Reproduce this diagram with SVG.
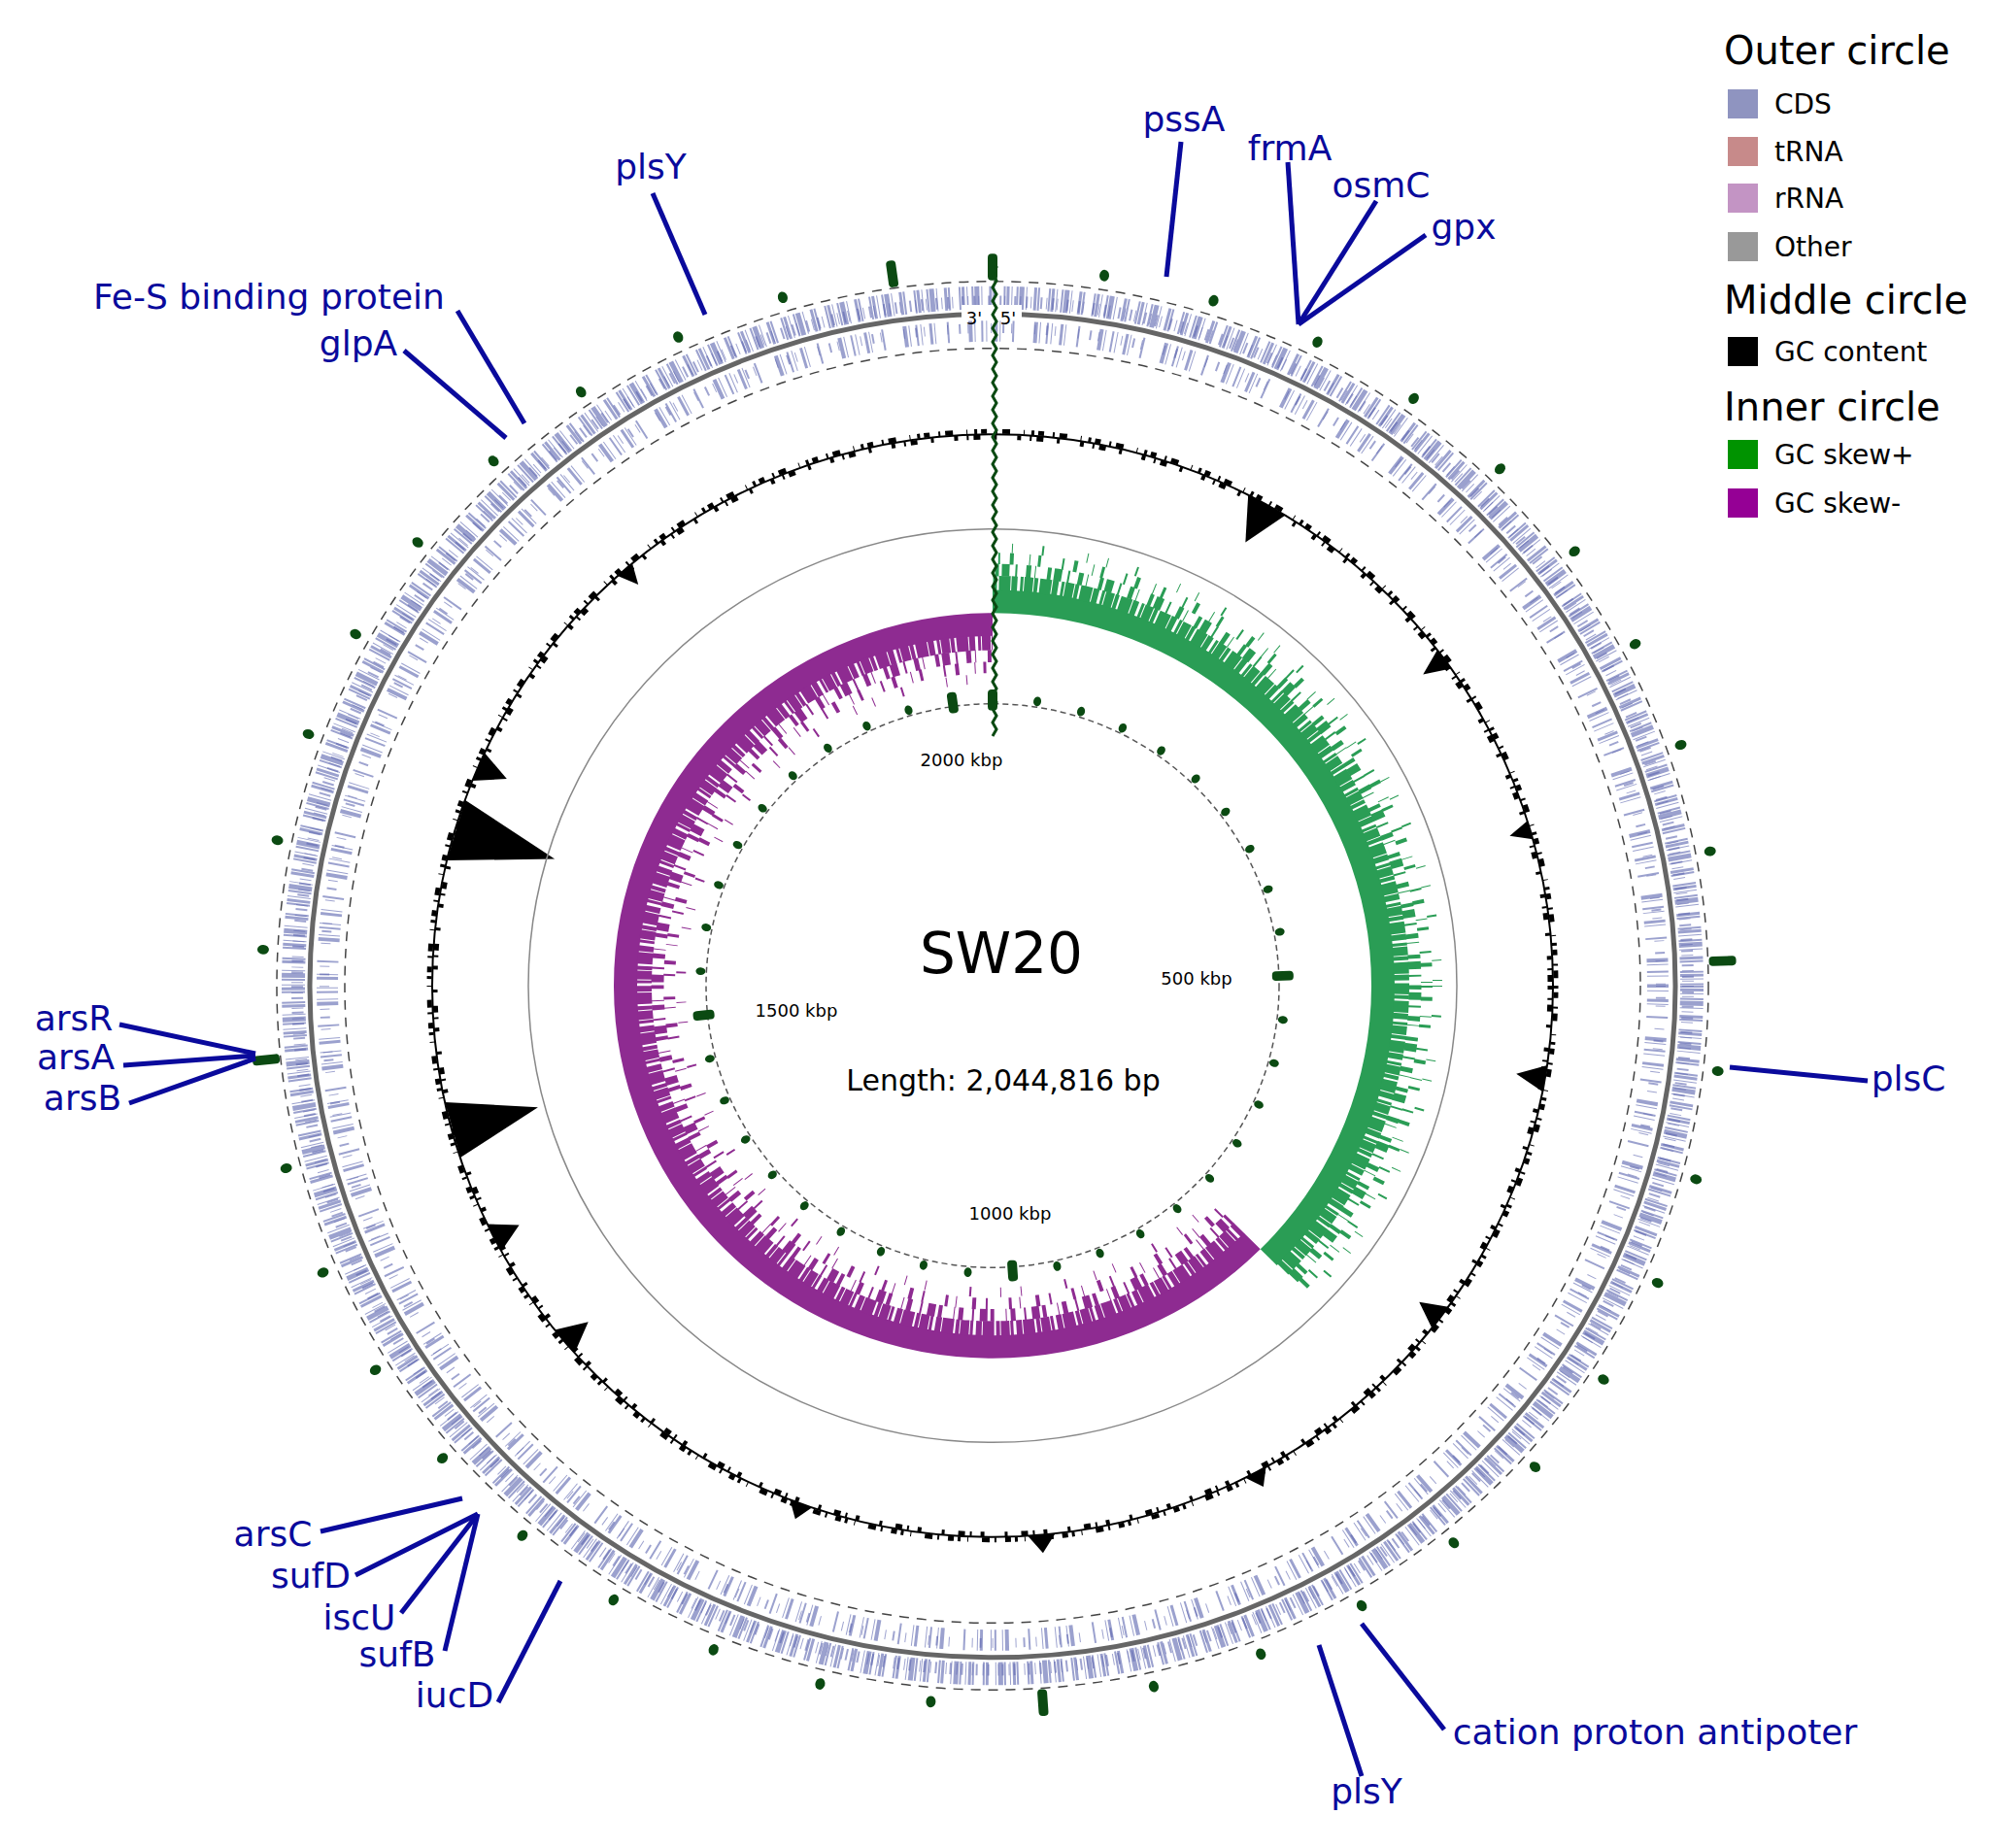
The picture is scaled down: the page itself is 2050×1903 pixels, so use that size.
<svg xmlns="http://www.w3.org/2000/svg" xmlns:xlink="http://www.w3.org/1999/xlink" width="2050" height="1903" viewBox="0 0 2050 1903">
<style>
.lbl{font-family:"DejaVu Sans","Liberation Sans",sans-serif;font-size:36px;fill:#0a0a9c;text-anchor:middle}
.ptr{stroke:#0a0a9c;stroke-width:5;fill:none}
.lt{font-family:"DejaVu Sans","Liberation Sans",sans-serif;font-size:40px;fill:#000}
.li{font-family:"DejaVu Sans","Liberation Sans",sans-serif;font-size:28px;fill:#000}
.kb{font-family:"DejaVu Sans","Liberation Sans",sans-serif;font-size:18px;fill:#000;text-anchor:middle}
.dk{fill:#0b4a12}
</style>
<defs>
<ellipse id="od" cx="0" cy="-752" rx="5" ry="6" class="dk"/>
<rect id="ob" x="-5" y="-766" width="10" height="28" rx="4" class="dk"/>
<ellipse id="id" cx="0" cy="-301" rx="4" ry="5" class="dk"/>
<rect id="ib" x="-5" y="-310" width="10" height="22" rx="4" class="dk"/>
<clipPath id="gsec"><polygon points="0,0 0,-700 700,-700 700,700"/></clipPath>
<clipPath id="psec"><polygon points="0,0 700,700 700,800 -800,800 -800,-700 0,-700"/></clipPath>
</defs>
<rect width="2050" height="1903" fill="#fff"/>
<g id="plot" transform="translate(1022,1015) scale(1,0.984)">
  <g id="cds" fill="none">
    <circle r="737" stroke="#444" stroke-width="1.5" stroke-dasharray="10 8"/>
    <circle r="667" stroke="#444" stroke-width="1.5" stroke-dasharray="10 8"/>
    <circle r="720" stroke="#8a90c6" stroke-width="24" stroke-dasharray="2 1 3 2 1 4 2 1 5 2 1 7 3 1 2 9" opacity="0.85"/>
    <circle r="716" stroke="#5f67b0" stroke-width="12" stroke-dasharray="1 5 2 3 1 9 2 4" opacity="0.6"/>
    <circle r="685" stroke="#8a90c6" stroke-width="22" stroke-dasharray="2 3 1 8 3 2 1 12 2 20 4 2 1 6" opacity="0.85"/>
    <circle r="688" stroke="#5f67b0" stroke-width="10" stroke-dasharray="1 11 2 7 1 23" opacity="0.6"/>
    <circle r="703" stroke="#666" stroke-width="5"/>
  </g>
  <g id="gc" fill="none">
    <circle r="577" stroke="#000" stroke-width="2"/>
    <circle r="580" stroke="#000" stroke-width="5" stroke-dasharray="3 4 6 9 2 5 8 14 1 7"/>
    <circle r="574" stroke="#000" stroke-width="5" stroke-dasharray="4 9 2 5 7 14 3 21"/>
    <g fill="#000" stroke="none">
      <polygon transform="rotate(286.4)" points="-33,-576 33,-576 0,-470"/>
      <polygon transform="rotate(254.8)" points="-30,-576 30,-576 0,-485"/>
      <polygon transform="rotate(29.3)" points="-22,-577 22,-577 0,-532"/>
      <polygon transform="rotate(53.7)" points="-12,-577 12,-577 0,-550"/>
      <polygon transform="rotate(73.6)" points="-10,-577 10,-577 0,-555"/>
      <polygon transform="rotate(99.7)" points="-14,-577 14,-577 0,-547"/>
      <polygon transform="rotate(127)" points="-14,-577 14,-577 0,-550"/>
      <polygon transform="rotate(229.8)" points="-16,-577 16,-577 0,-545"/>
      <polygon transform="rotate(242.8)" points="-16,-577 16,-577 0,-548"/>
      <polygon transform="rotate(293.4)" points="-16,-577 16,-577 0,-545"/>
      <polygon transform="rotate(175)" points="-14,-577 14,-577 0,-596"/>
      <polygon transform="rotate(152)" points="-12,-577 12,-577 0,-594"/>
      <polygon transform="rotate(319)" points="-10,-577 10,-577 0,-556"/>
      <polygon transform="rotate(200)" points="-12,-577 12,-577 0,-594"/>
    </g>
  </g>
  <circle r="478" fill="none" stroke="#888" stroke-width="1.5"/>
  <g id="skew" fill="none" stroke-linecap="butt">
    <g clip-path="url(#gsec)" stroke="#2a9d55">
      <circle r="402" stroke-width="24"/>
      <circle r="421" stroke-width="16" stroke-dasharray="9 1 4 2 12 1 6 3 3 1"/>
      <circle r="435" stroke-width="13" stroke-dasharray="4 3 8 6 2 9 5 4 1 12"/>
      <circle r="447" stroke-width="12" stroke-dasharray="2 10 4 16 1 8 3 22"/>
      <circle r="458" stroke-width="10" stroke-dasharray="1 30 2 45 1 20"/>
    </g>
    <g clip-path="url(#psec)" stroke="#8e2b91">
      <circle r="378" stroke-width="24"/>
      <circle r="359" stroke-width="16" stroke-dasharray="9 1 4 2 12 1 6 3 3 1"/>
      <circle r="345" stroke-width="13" stroke-dasharray="4 3 8 6 2 9 5 4 1 12"/>
      <circle r="333" stroke-width="12" stroke-dasharray="2 10 4 16 1 8 3 22"/>
      <circle r="321" stroke-width="10" stroke-dasharray="1 30 2 45 1 20"/>
    </g>
  </g>
  <circle r="295" fill="none" stroke="#555" stroke-width="1.5" stroke-dasharray="6 4"/>
  <g id="ticks">
    <use href="#ob" transform="rotate(0)"/><use href="#od" transform="rotate(8.8)"/><use href="#od" transform="rotate(17.61)"/><use href="#od" transform="rotate(26.41)"/><use href="#od" transform="rotate(35.21)"/><use href="#od" transform="rotate(44.01)"/><use href="#od" transform="rotate(52.82)"/><use href="#od" transform="rotate(61.62)"/><use href="#od" transform="rotate(70.42)"/><use href="#od" transform="rotate(79.22)"/><use href="#ob" transform="rotate(88.03)"/><use href="#od" transform="rotate(96.83)"/><use href="#od" transform="rotate(105.63)"/><use href="#od" transform="rotate(114.43)"/><use href="#od" transform="rotate(123.24)"/><use href="#od" transform="rotate(132.04)"/><use href="#od" transform="rotate(140.84)"/><use href="#od" transform="rotate(149.64)"/><use href="#od" transform="rotate(158.45)"/><use href="#od" transform="rotate(167.25)"/><use href="#ob" transform="rotate(176.05)"/><use href="#od" transform="rotate(184.85)"/><use href="#od" transform="rotate(193.66)"/><use href="#od" transform="rotate(202.46)"/><use href="#od" transform="rotate(211.26)"/><use href="#od" transform="rotate(220.07)"/><use href="#od" transform="rotate(228.87)"/><use href="#od" transform="rotate(237.67)"/><use href="#od" transform="rotate(246.47)"/><use href="#od" transform="rotate(255.28)"/><use href="#ob" transform="rotate(264.08)"/><use href="#od" transform="rotate(272.88)"/><use href="#od" transform="rotate(281.68)"/><use href="#od" transform="rotate(290.49)"/><use href="#od" transform="rotate(299.29)"/><use href="#od" transform="rotate(308.09)"/><use href="#od" transform="rotate(316.89)"/><use href="#od" transform="rotate(325.7)"/><use href="#od" transform="rotate(334.5)"/><use href="#od" transform="rotate(343.3)"/><use href="#ob" transform="rotate(352.1)"/>
    <use href="#ib" transform="rotate(0)"/><use href="#id" transform="rotate(8.8)"/><use href="#id" transform="rotate(17.61)"/><use href="#id" transform="rotate(26.41)"/><use href="#id" transform="rotate(35.21)"/><use href="#id" transform="rotate(44.01)"/><use href="#id" transform="rotate(52.82)"/><use href="#id" transform="rotate(61.62)"/><use href="#id" transform="rotate(70.42)"/><use href="#id" transform="rotate(79.22)"/><use href="#ib" transform="rotate(88.03)"/><use href="#id" transform="rotate(96.83)"/><use href="#id" transform="rotate(105.63)"/><use href="#id" transform="rotate(114.43)"/><use href="#id" transform="rotate(123.24)"/><use href="#id" transform="rotate(132.04)"/><use href="#id" transform="rotate(140.84)"/><use href="#id" transform="rotate(149.64)"/><use href="#id" transform="rotate(158.45)"/><use href="#id" transform="rotate(167.25)"/><use href="#ib" transform="rotate(176.05)"/><use href="#id" transform="rotate(184.85)"/><use href="#id" transform="rotate(193.66)"/><use href="#id" transform="rotate(202.46)"/><use href="#id" transform="rotate(211.26)"/><use href="#id" transform="rotate(220.07)"/><use href="#id" transform="rotate(228.87)"/><use href="#id" transform="rotate(237.67)"/><use href="#id" transform="rotate(246.47)"/><use href="#id" transform="rotate(255.28)"/><use href="#ib" transform="rotate(264.08)"/><use href="#id" transform="rotate(272.88)"/><use href="#id" transform="rotate(281.68)"/><use href="#id" transform="rotate(290.49)"/><use href="#id" transform="rotate(299.29)"/><use href="#id" transform="rotate(308.09)"/><use href="#id" transform="rotate(316.89)"/><use href="#id" transform="rotate(325.7)"/><use href="#id" transform="rotate(334.5)"/><use href="#id" transform="rotate(343.3)"/><use href="#ib" transform="rotate(352.1)"/>
  </g>
</g>
<rect x="990" y="314" width="62" height="16" fill="#fff"/>
<text x="1003" y="334" class="kb" font-size="20">3'</text>
<text x="1038" y="334" class="kb" font-size="20">5'</text>
<path d="M1022 268 l4 7 l-4 7 l4 7 l-4 7 l4 7 l-4 7 l4 7 l-4 7 l4 7 l-4 7 l4 7 l-4 7 l4 7 l-4 7 l4 7 l-4 7 l4 7 l-4 7 l4 7 l-4 7 l4 7 l-4 7 l4 7 l-4 7 l4 7 l-4 7 l4 7 l-4 7 l4 7 l-4 7 l4 7 l-4 7 l4 7 l-4 7 l4 7 l-4 7 l4 7 l-4 7 l4 7 l-4 7 l4 7 l-4 7 l4 7 l-4 7 l4 7 l-4 7 l4 7 l-4 7 l4 7 l-4 7 l4 7 l-4 7 l4 7 l-4 7 l4 7 l-4 7 l4 7 l-4 7 l4 7 l-4 7 l4 7 l-4 7 l4 7 l-4 7 l4 7 l-4 7 l4 7 l-4 7 l4 7 l-4 7" fill="none" stroke="#0b4a12" stroke-width="3"/>
<g id="center-text" font-family="DejaVu Sans, Liberation Sans, sans-serif" text-anchor="middle">
  <text x="1031" y="1002" font-size="58">SW20</text>
  <text x="1033" y="1123" font-size="30">Length: 2,044,816 bp</text>
  <text x="990" y="789" class="kb">2000 kbp</text>
  <text x="1232" y="1014" class="kb">500 kbp</text>
  <text x="820" y="1047" class="kb">1500 kbp</text>
  <text x="1040" y="1256" class="kb">1000 kbp</text>
</g>
<g id="connectors">
  <line class="ptr" x1="1216" y1="146" x2="1201" y2="285"/>
  <line class="ptr" x1="1326" y1="167" x2="1337" y2="334"/>
  <line class="ptr" x1="1417" y1="207" x2="1337" y2="334"/>
  <line class="ptr" x1="1468" y1="242" x2="1337" y2="334"/>
  <line class="ptr" x1="672" y1="199" x2="726" y2="324"/>
  <line class="ptr" x1="471" y1="320" x2="540" y2="436"/>
  <line class="ptr" x1="416" y1="361" x2="521" y2="451"/>
  <line class="ptr" x1="123" y1="1055" x2="263" y2="1085"/>
  <line class="ptr" x1="127" y1="1097" x2="263" y2="1087"/>
  <line class="ptr" x1="133" y1="1136" x2="263" y2="1090"/>
  <line class="ptr" x1="1781" y1="1099" x2="1923" y2="1113"/>
  <line class="ptr" x1="330" y1="1577" x2="476" y2="1543"/>
  <line class="ptr" x1="366" y1="1622" x2="492" y2="1559"/>
  <line class="ptr" x1="413" y1="1661" x2="492" y2="1559"/>
  <line class="ptr" x1="458" y1="1700" x2="492" y2="1559"/>
  <line class="ptr" x1="513" y1="1753" x2="577" y2="1628"/>
  <line class="ptr" x1="1487" y1="1781" x2="1402" y2="1672"/>
  <line class="ptr" x1="1402" y1="1829" x2="1358" y2="1694"/>
</g>
<g id="labels">
  <text class="lbl" x="1219" y="135">pssA</text>
  <text class="lbl" x="1328" y="165">frmA</text>
  <text class="lbl" x="1422" y="203">osmC</text>
  <text class="lbl" x="1507" y="246">gpx</text>
  <text class="lbl" x="670" y="184">plsY</text>
  <text class="lbl" x="277" y="318">Fe-S binding protein</text>
  <text class="lbl" x="369" y="366">glpA</text>
  <text class="lbl" x="76" y="1061">arsR</text>
  <text class="lbl" x="78" y="1101">arsA</text>
  <text class="lbl" x="85" y="1143">arsB</text>
  <text class="lbl" x="1965" y="1123">plsC</text>
  <text class="lbl" x="281" y="1592">arsC</text>
  <text class="lbl" x="320" y="1635">sufD</text>
  <text class="lbl" x="370" y="1678">iscU</text>
  <text class="lbl" x="409" y="1716">sufB</text>
  <text class="lbl" x="468" y="1758">iucD</text>
  <text class="lbl" x="1704" y="1796">cation proton antipoter</text>
  <text class="lbl" x="1407" y="1857">plsY</text>
</g>
<g id="legend">
  <text class="lt" x="1775" y="66">Outer circle</text>
  <rect x="1779" y="92" width="31" height="30" fill="#8f94c0"/><text class="li" x="1827" y="117">CDS</text>
  <rect x="1779" y="141" width="31" height="30" fill="#c78a8a"/><text class="li" x="1827" y="166">tRNA</text>
  <rect x="1779" y="189" width="31" height="30" fill="#c394c4"/><text class="li" x="1827" y="214">rRNA</text>
  <rect x="1779" y="239" width="31" height="30" fill="#999"/><text class="li" x="1827" y="264">Other</text>
  <text class="lt" x="1775" y="323">Middle circle</text>
  <rect x="1779" y="347" width="31" height="30" fill="#000"/><text class="li" x="1827" y="372">GC content</text>
  <text class="lt" x="1775" y="433">Inner circle</text>
  <rect x="1779" y="453" width="31" height="30" fill="#009300"/><text class="li" x="1827" y="478">GC skew+</text>
  <rect x="1779" y="503" width="31" height="30" fill="#950095"/><text class="li" x="1827" y="528">GC skew-</text>
</g>
</svg>
